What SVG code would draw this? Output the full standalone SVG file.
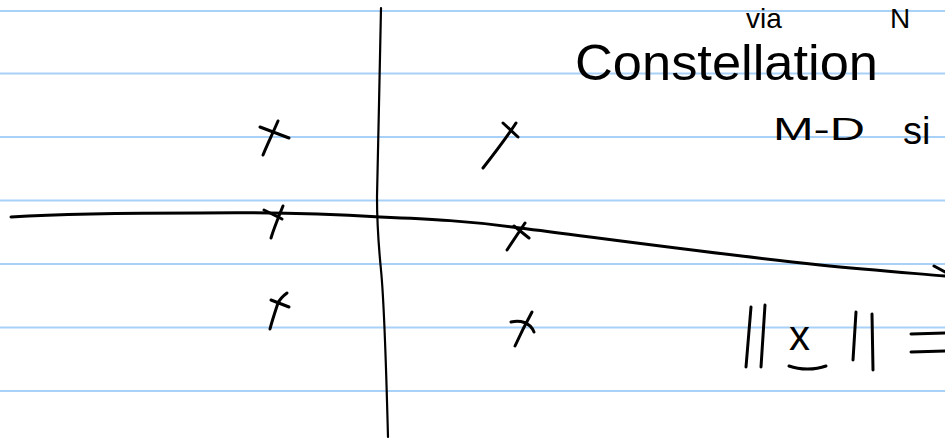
<svg xmlns="http://www.w3.org/2000/svg" width="945" height="440" viewBox="0 0 945 440">
<style>
.rule{stroke:#a9d1f7;stroke-width:2}
.ink{fill:none;stroke:#000;stroke-width:3;stroke-linecap:round;stroke-linejoin:round}
.thin{fill:none;stroke:#000;stroke-width:2.2;stroke-linecap:round;stroke-linejoin:round}
.hand{font-family:"Liberation Sans",Arial,sans-serif;fill:#000}
</style>
<rect width="945" height="440" fill="#fff"/>
<g id="ruling">
<line class="rule" x1="0" y1="11" x2="945" y2="11"/>
<line class="rule" x1="0" y1="73.5" x2="945" y2="73.5"/>
<line class="rule" x1="0" y1="137" x2="945" y2="137"/>
<line class="rule" x1="0" y1="200.5" x2="945" y2="200.5"/>
<line class="rule" x1="0" y1="264" x2="945" y2="264"/>
<line class="rule" x1="0" y1="327.5" x2="945" y2="327.5"/>
<line class="rule" x1="0" y1="391" x2="945" y2="391"/>
</g>
<g id="connectors">
<path class="thin" d="M381,8 C380,60 378,150 377,197 C377,215 378,240 381,270 C384,300 386,360 388,437"/>
<path class="ink" d="M11,217 C60,214 140,213 200,213 C270,212 330,214 380,217 C430,219 470,221 520,228 C600,238 700,252 820,265 C870,270 910,273 945,276"/>
<path class="ink" d="M934,266 L945,272"/>
</g>
<g id="marks">
<path class="ink" d="M260,127 L289,138 M278,121 C272,135 267,145 263,155"/>
<path class="ink" d="M264,210 L282,219 M283,206 C279,216 274,228 271,238"/>
<path class="ink" d="M271,300 L289,307 M287,293 C283,296 280,299 278,303 C275,312 272,321 270,329"/>
<path class="ink" d="M503,123 L518,137 M516,123 C505,140 494,154 483,168"/>
<path class="ink" d="M514,226 L529,238 M525,223 C519,232 513,241 507,250"/>
<path class="ink" d="M511,322 C520,320 530,322 534,332 M532,312 C526,323 520,335 515,346"/>
</g>
<g id="text">
<text class="hand" x="746" y="28" font-size="28">via</text>
<text class="hand" x="890" y="28" font-size="28">N</text>
<text class="hand" x="575" y="80" font-size="50" textLength="303" lengthAdjust="spacingAndGlyphs">Constellation</text>
<text class="hand" x="773" y="140" font-size="32" textLength="92" lengthAdjust="spacingAndGlyphs">M-D</text>
<text class="hand" x="903" y="144" font-size="38">si</text>
<path class="ink" d="M751,307 L746,367 M765,305 L761,367 M856,312 L853,360 M872,314 L873,370"/>
<text class="hand" x="789" y="350" font-size="42">x</text>
<path class="ink" d="M789,366 C800,370 815,370 826,366"/>
<path class="ink" d="M911,334 L945,333 M911,352 L945,351"/>
</g>
</svg>
